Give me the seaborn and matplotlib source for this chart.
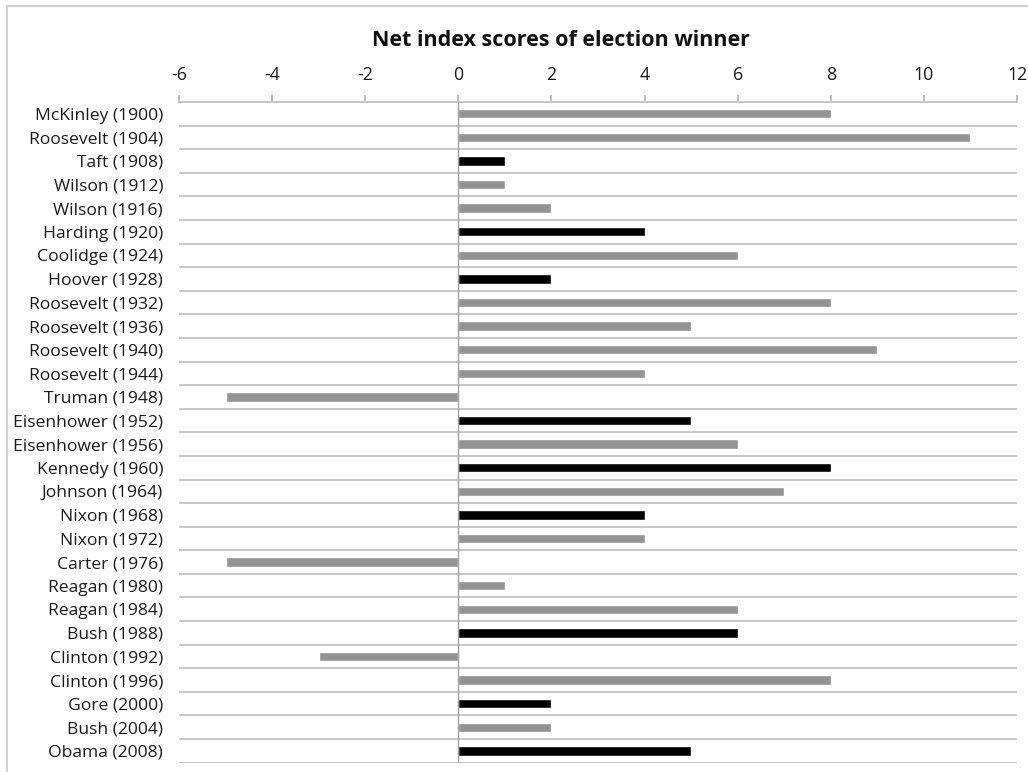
import numpy as np
import pandas as pd
import matplotlib
matplotlib.use("Agg")
import matplotlib.pyplot as plt
import seaborn as sns
from matplotlib.patches import Rectangle

winners = [
    "McKinley (1900)", "Roosevelt (1904)", "Taft (1908)", "Wilson (1912)",
    "Wilson (1916)", "Harding (1920)", "Coolidge (1924)", "Hoover (1928)",
    "Roosevelt (1932)", "Roosevelt (1936)", "Roosevelt (1940)", "Roosevelt (1944)",
    "Truman (1948)", "Eisenhower (1952)", "Eisenhower (1956)", "Kennedy (1960)",
    "Johnson (1964)", "Nixon (1968)", "Nixon (1972)", "Carter (1976)",
    "Reagan (1980)", "Reagan (1984)", "Bush (1988)", "Clinton (1992)",
    "Clinton (1996)", "Gore (2000)", "Bush (2004)", "Obama (2008)",
]
net_scores = [8, 11, 1, 1, 2, 4, 6, 2, 8, 5, 9, 4, -5, 5, 6, 8,
              7, 4, 4, -5, 1, 6, 6, -3, 8, 2, 2, 5]
open_seat = [False, False, True, False, False, True, False, True,
             False, False, False, False, False, True, False, True,
             False, True, False, False, False, False, True, False,
             False, True, False, True]
x_ticks = [-6, -4, -2, 0, 2, 4, 6, 8, 10, 12]
title = "Net index scores of election winner"

df = pd.DataFrame({
    "winner": winners,
    "score": net_scores,
    "race": ["open" if o else "incumbent" for o in open_seat],
})

sns.set_theme(style="white")
plt.rcParams["font.family"] = ["Open Sans", "DejaVu Sans"]

fig = plt.figure(figsize=(10.28, 7.72), dpi=100)
ax = fig.add_axes([0.1741, 0.0121, 0.9893 - 0.1741, 0.8679 - 0.0121])

grid_col = "#c4c4c4"

# light frame around the whole chart
fig.patches.append(Rectangle((7 / 1028, -0.05), 1.2, 1 - 6 / 772 + 0.05,
                             transform=fig.transFigure, fill=False,
                             edgecolor="#d0d0d0", linewidth=1.5, zorder=0))

sns.barplot(data=df, y="winner", x="score", hue="race", order=winners,
            hue_order=["incumbent", "open"],
            palette={"incumbent": "#939393", "open": "#000000"},
            dodge=False, width=0.4, orient="h", legend=False,
            saturation=1, ax=ax, zorder=3)

ax.set_xlim(x_ticks[0], x_ticks[-1])
ax.set_ylim(len(winners) - 0.5, -0.5)
ax.set_xticks(x_ticks)
ax.set_xticklabels([f"{t}" for t in x_ticks])
ax.xaxis.tick_top()
ax.set_xlabel("")
ax.set_ylabel("")

# separators between categories
ax.set_yticks(np.arange(len(winners) + 1) - 0.5, minor=True)
ax.grid(False)
ax.grid(which="minor", axis="y", color=grid_col, linewidth=1.3, zorder=1)
ax.axvline(0, color="#a0a0a0", linewidth=1.0, zorder=4)

for side in ["left", "right", "bottom"]:
    ax.spines[side].set_visible(False)
ax.spines["top"].set_color(grid_col)
ax.spines["top"].set_linewidth(1.3)

ax.tick_params(axis="x", which="major", top=True, direction="out", length=5,
               width=1.2, color="#b0b0b0", pad=8, labelsize=12.8,
               labelcolor="#1a1a1a")
ax.tick_params(axis="y", which="both", left=False, length=0, pad=11.5,
               labelsize=12.6, labelcolor="#1a1a1a")

fig.text(561 / 1028, 1 - 40 / 772, title, ha="center", va="center",
         fontsize=15.5, fontweight="bold", color="#111111")

fig.savefig("out.png", dpi=100)
